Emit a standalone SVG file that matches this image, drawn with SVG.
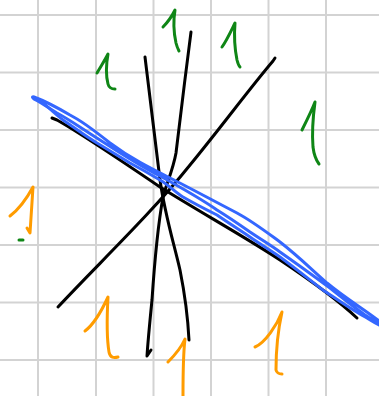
<svg xmlns="http://www.w3.org/2000/svg" width="379" height="396" viewBox="0 0 379 396">
<style>
.grid line{stroke:#d3d3d3;stroke-width:2}
.ink{fill:none;stroke-linecap:round;stroke-linejoin:round;stroke-width:3}
.black{stroke:#000}
.blue{stroke:#3467ff}
.green{stroke:#0f8616}
.orange{stroke:#ff9c00}
</style>
<rect width="379" height="396" fill="#fff"/>
<g id="grid" class="grid">
<line x1="38" y1="0" x2="38" y2="396"/>
<line x1="96" y1="0" x2="96" y2="396"/>
<line x1="153.5" y1="0" x2="153.5" y2="396"/>
<line x1="211" y1="0" x2="211" y2="396"/>
<line x1="268.5" y1="0" x2="268.5" y2="396"/>
<line x1="326" y1="0" x2="326" y2="396"/>
<line x1="0" y1="15" x2="379" y2="15"/>
<line x1="0" y1="72.5" x2="379" y2="72.5"/>
<line x1="0" y1="130" x2="379" y2="130"/>
<line x1="0" y1="187.5" x2="379" y2="187.5"/>
<line x1="0" y1="245" x2="379" y2="245"/>
<line x1="0" y1="302.5" x2="379" y2="302.5"/>
<line x1="0" y1="360" x2="379" y2="360"/>
</g>
<g id="lines" class="ink black">
<path id="lineA" d="M58,307 C100,262 150,215 190,165 C222,126 250,88 273,61 L275,58"/>
<path id="lineB" d="M145,57 C150,100 155,140 160,180 C165,215 173,240 180,270 C186,300 188,320 189,340"/>
<path id="lineC" d="M191,32 C186,70 180,120 176,153 C173,170 166,185 163,197 C158,225 154,270 152,300 C150,320 148,340 147,356 L151,350"/>
<path id="lineD" d="M52,118 L57,120 C80,133 110,153 160,187 C200,212 250,240 280,260 C310,280 340,302 357,318"/>
</g>
<g id="loop" class="ink blue">
<path d="M379,321 C365,310 345,298 327,283 C310,268 298,256 280,242 C265,231 252,221 237,213 C210,199 190,188 170,178 C150,168 130,158 110,143 C95,131 80,120 70,115 C58,108 45,101 34,97 C31,96 33,99 36,100 C45,105 50,109 57,113 C70,120 78,126 100,140 C120,153 140,166 160,176 C180,187 200,198 217,210 C230,218 240,225 250,232 C265,242 272,246 280,252 C300,266 315,277 330,288 C345,300 355,308 365,315 C370,318 374,321 379,323"/>
<path d="M40,100 C48,107 55,114 63,120 C75,128 85,136 97,143 C110,151 120,157 130,163 C145,171 150,174 160,180 C170,186 175,192 183,197 C195,204 205,209 217,215 C230,224 240,230 250,237 C260,244 270,250 280,257 C295,268 310,280 323,290 C338,300 352,310 367,318 C372,321 375,323 379,325"/>
</g>
<g id="green-marks" class="ink green">
<path d="M97,73 C101,66 105,60 108,54 C106,65 106,76 108,84 C109,88 112,89 115,89"/>
<path d="M163,27 C168,22 172,16 175,10 C173,22 174,34 176,43 C177,47 178,49 179,51"/>
<path d="M222,47 C227,40 231,31 235,23 C234,35 235,50 237,60 C238,64 239,66 240,67"/>
<path d="M302,130 C307,120 312,110 315,102 C313,117 312,135 313,147 C314,155 316,160 319,164"/>
<path d="M19,240 L23,240"/>
</g>
<g id="orange-marks" class="ink orange">
<path d="M10,216 C18,210 27,198 33,187 C32,202 31,218 30,233 L27,228"/>
<path d="M85,331 C93,325 102,310 108,297 C107,315 107,340 109,352 C110,358 114,358 118,357"/>
<path d="M168,362 C175,355 181,348 185,339 C183,355 183,375 183,396"/>
<path d="M255,347 C265,343 277,325 282,312 C278,330 276,355 276,370 C277,374 280,374 282,374"/>
</g>
</svg>
